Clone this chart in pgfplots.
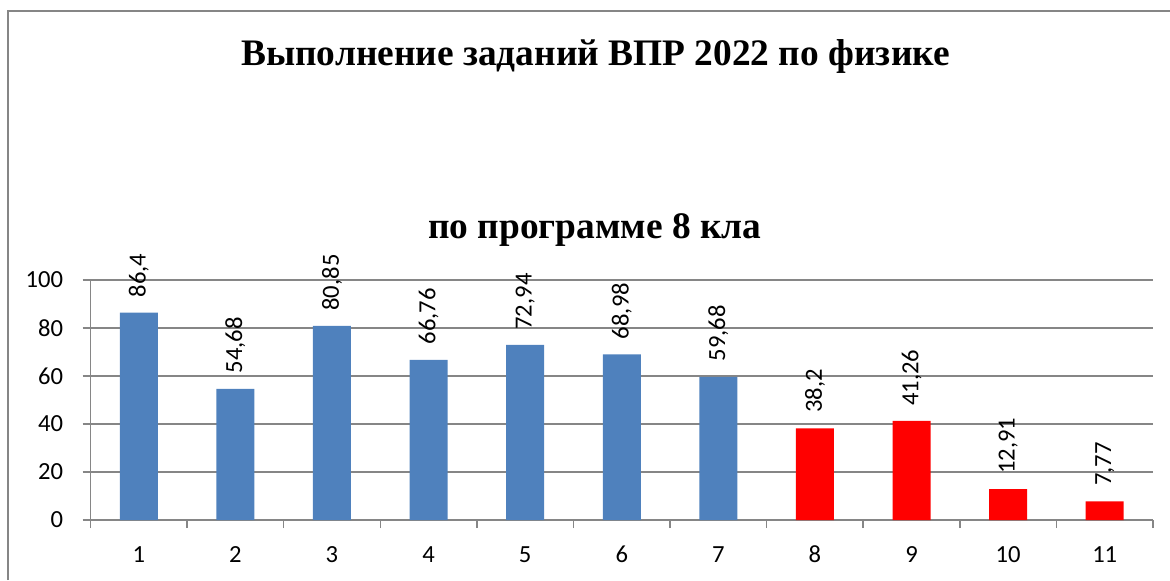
\documentclass[border=0pt]{standalone}
\usepackage{fontspec}
\setmainfont{Carlito}
\newfontfamily\titlefont{Liberation Serif}
\usepackage{pgfplots}
\pgfplotsset{compat=1.18}
\definecolor{barblue}{HTML}{4F81BD}
\definecolor{barred}{HTML}{FF0000}
\definecolor{framegray}{HTML}{868686}
\newcommand{\lblfont}{\fontsize{12.3}{14}\selectfont}

\begin{document}
\begin{tikzpicture}
\useasboundingbox (0pt,0pt) rectangle (585pt,290pt);
% chart frame (only left and top edges are inside the picture)
\draw[framegray, line width=1pt] (4pt,0pt) -- (4pt,284.5pt) -- (585pt,284.5pt);
\node[font=\titlefont\bfseries\fontsize{18.7}{22}\selectfont, anchor=base, inner sep=0pt]
  at (297.75pt,257.5pt) {Выполнение заданий ВПР 2022 по физике};
\node[font=\titlefont\bfseries\fontsize{18.7}{22}\selectfont, anchor=base, inner sep=0pt]
  at (297.5pt,171pt) {по программе 8 кла};
\begin{axis}[
  at={(45.25pt,30pt)}, anchor=south west,
  scale only axis, width=531.25pt, height=120pt,
  xmin=0.5, xmax=11.5, ymin=0, ymax=100,
  axis lines*=left,
  axis line style={framegray, line width=0.75pt},
  tick align=outside,
  xtick={1,...,11},
  major x tick style={draw=none},
  minor xtick={0.5,1.5,...,11.5},
  minor tick length=4pt,
  ytick={0,20,...,100},
  major tick length=4pt,
  every tick/.style={framegray, line width=0.75pt},
  ymajorgrids,
  grid style={framegray, line width=0.75pt},
  /pgf/number format/assume math mode=true,
  /pgf/number format/use comma,
  yticklabel style={font=\lblfont, anchor=east, inner sep=0pt, xshift=-9.5pt},
  xticklabel style={font=\lblfont, anchor=base, inner sep=0pt, yshift=-17.25pt},
  ybar,
  bar width=19pt,
  nodes near coords,
  nodes near coords style={rotate=90, anchor=west, inner xsep=7.5pt, inner ysep=0pt,
    font=\lblfont, text=black},
]
\addplot[fill=barblue, draw=none, bar shift=0pt] coordinates {
  (1,86.4) (2,54.68) (3,80.85) (4,66.76) (5,72.94) (6,68.98) (7,59.68)
};
\addplot[fill=barred, draw=none, bar shift=0pt] coordinates {
  (8,38.2) (9,41.26) (10,12.91) (11,7.77)
};
\end{axis}
\end{tikzpicture}
\end{document}
